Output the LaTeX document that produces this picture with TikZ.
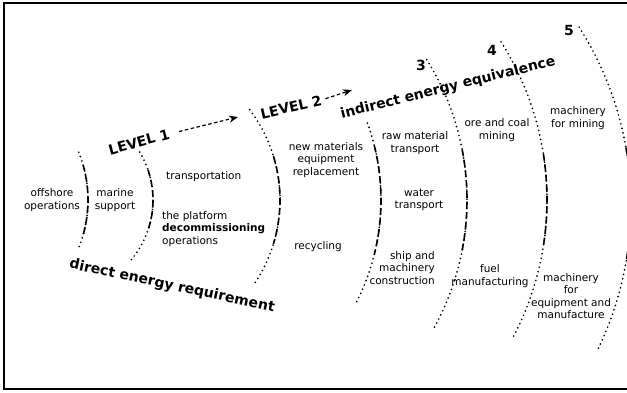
\documentclass[tikz,border=0pt]{standalone}
\usepackage{fontspec}
\setmainfont{DejaVu Sans}
\usetikzlibrary{arrows.meta,positioning,calc}

\begin{document}
\begin{tikzpicture}[x=1pt, y=-1pt, > = {Stealth[length=9pt,width=7pt]}]
  \tikzstyle{rotulo}=[font=\fontsize{10.5}{12.5}\selectfont, align=center, inner sep=0pt]
  \tikzstyle{nivel}=[font=\fontsize{14}{16}\selectfont\bfseries, inner sep=0pt]
  \tikzstyle{frente}=[line width=1.9pt, line cap=round, dash pattern=on 0pt off 4.6pt]
  \tikzstyle{meio}=[line width=1.6pt, dash pattern=on 7pt off 3.5pt]
  \tikzstyle{seta}=[->, line width=1.2pt, dash pattern=on 3.5pt off 2.5pt]

  \useasboundingbox (0,0) rectangle (627,392);
  \draw[line width=1.6pt] (627,3) -- (4,3) -- (4,389) -- (627,389);

  % Arcos
  \draw[frente] plot[domain=-22:23, samples=30, smooth] ({-39.5+127.5*cos(\x)}, {200+127.5*sin(\x)});
  \draw[meio] plot[domain=-16:16, samples=20, smooth] ({-39.5+127.5*cos(\x)}, {200+127.5*sin(\x)});
  \draw[frente] plot[domain=-31:42, samples=30, smooth] ({60+93*cos(\x)}, {200+93*sin(\x)});
  \draw[meio] plot[domain=-19:19, samples=20, smooth] ({60+93*cos(\x)}, {200+93*sin(\x)});
  \draw[frente] plot[domain=-37:35, samples=30, smooth] ({130+150*cos(\x)}, {200+150*sin(\x)});
  \draw[meio] plot[domain=-17:17, samples=20, smooth] ({130+150*cos(\x)}, {200+150*sin(\x)});
  \draw[frente] plot[domain=-20:28, samples=30, smooth] ({156+225*cos(\x)}, {200+225*sin(\x)});
  \draw[meio] plot[domain=-14:14, samples=20, smooth] ({156+225*cos(\x)}, {200+225*sin(\x)});
  \draw[frente] plot[domain=-32:29.4, samples=40, smooth] ({202+265*cos(\x)}, {200+265*sin(\x)});
  \draw[meio] plot[domain=-11:11, samples=20, smooth] ({202+265*cos(\x)}, {200+265*sin(\x)});
  \draw[frente] plot[domain=-32.4:28.3, samples=40, smooth] ({252+295*cos(\x)}, {200+295*sin(\x)});
  \draw[meio] plot[domain=-9:9, samples=20, smooth] ({252+295*cos(\x)}, {200+295*sin(\x)});
  \draw[frente] plot[domain=-32.5:26.4, samples=40, smooth] ({300+331*cos(\x)}, {205+331*sin(\x)});
  \draw[meio] plot[domain=-10:10, samples=20, smooth] ({300+331*cos(\x)}, {205+331*sin(\x)});

  % Niveis
  \node[nivel, rotate=15] (L1) at (139,142) {LEVEL 1};
  \node[nivel, rotate=13] (L2) at (291,107) {LEVEL 2};
  \node[nivel] (n3) at (421,65) {3};
  \node[nivel] (n4) at (492,50) {4};
  \node[nivel] (n5) at (569,30) {5};
  \node[nivel, rotate=14] (ind) at (448,88) {indirect energy equivalence};
  \node[nivel, rotate=-12] (dir) at (172,286) {direct energy requirement};
  \coordinate (s1) at (238,117);
  \coordinate (s2) at (352,90);
  \draw[seta, shorten <=10pt] (L1.east) -- (s1);
  \draw[seta, shorten <=4pt] (L2.east) -- (s2);

  % Textos
  \node[rotulo] (op) at (52,200) {offshore\\operations};
  \node[rotulo] (ms) at (115,200) {marine\\support};
  \node[rotulo, anchor=west] (tr) at (166,177) {transportation};
  \node[rotulo, anchor=west, align=left] (dec) at (162,229) {the platform\\\textbf{decommissioning}\\operations};
  \node[rotulo] (nm) at (326,160) {new materials\\equipment\\replacement};
  \node[rotulo] (rc) at (318,247) {recycling};
  \node[rotulo] (rm) at (415,143) {raw material\\transport};
  \node[rotulo] (wt) at (419,200) {water\\transport};
  \node[rotulo, anchor=east, align=right] (sm) at (435,268) {ship and\\machinery\\construction};
  \node[rotulo] (oc) at (497,130) {ore and coal\\mining};
  \node[rotulo] (fm) at (490,276) {fuel\\manufacturing};
  \node[rotulo] (mm) at (578,118) {machinery\\for mining};
  \node[rotulo] (me) at (571,296) {machinery\\for\\equipment and\\manufacture};
\end{tikzpicture}
\end{document}
